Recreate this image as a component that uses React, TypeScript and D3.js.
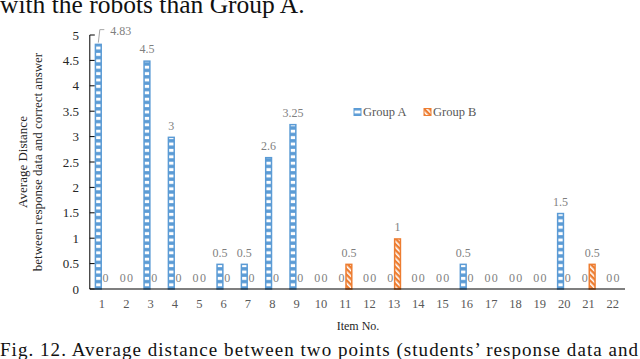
import { useEffect, useRef } from "react";
import * as d3 from "d3";

const items = d3.range(1, 23).map(String);
const groupA = [4.83, 0, 4.5, 3, 0, 0.5, 0.5, 2.6, 3.25, 0, 0, 0, 0, 0, 0, 0.5, 0, 0, 0, 1.5, 0, 0];
const groupB = [0, 0, 0, 0, 0, 0, 0, 0, 0, 0, 0.5, 0, 1, 0, 0, 0, 0, 0, 0, 0, 0.5, 0];
const groups = ["Group A", "Group B"];
const yTicks = [0, 0.5, 1, 1.5, 2, 2.5, 3, 3.5, 4, 4.5, 5];

const blue = "#5B9BD5";
const orange = "#ED7D31";
const serif = "'Liberation Serif', 'Times New Roman', serif";

export default function App() {
  const ref = useRef<SVGSVGElement>(null);

  useEffect(() => {
    const svg = d3.select(ref.current);
    svg.selectAll("*").remove();

    const left = 89.8;
    const right = 625;
    const top = 35;
    const bottom = 289;

    const x = d3.scaleBand().domain(items).range([left, right]).padding(0);
    const x1 = d3
      .scaleBand()
      .domain(groups)
      .range([x.bandwidth() * 0.2, x.bandwidth() * 0.8]);
    const y = d3.scaleLinear().domain([0, 5]).range([bottom, top]);

    // patterns
    const defs = svg.append("defs");
    const pA = defs
      .append("pattern")
      .attr("id", "patA")
      .attr("patternUnits", "userSpaceOnUse")
      .attr("width", 10)
      .attr("height", 6.4);
    pA.append("rect").attr("width", 10).attr("height", 6.4).attr("fill", blue);
    pA.append("rect").attr("y", 1.7).attr("width", 10).attr("height", 3).attr("fill", "#fff");

    const pB = defs
      .append("pattern")
      .attr("id", "patB")
      .attr("patternUnits", "userSpaceOnUse")
      .attr("width", 4)
      .attr("height", 4)
      .attr("patternTransform", "rotate(-45)");
    pB.append("rect").attr("width", 4).attr("height", 4).attr("fill", orange);
    pB.append("rect").attr("width", 1.6).attr("height", 4).attr("fill", "#fff");

    // surrounding paper text
    svg
      .append("text")
      .attr("x", 0)
      .attr("y", 12.5)
      .attr("font-family", serif)
      .attr("font-size", 25.5)
      .attr("fill", "#111")
      .text("with the robots than Group A.");
    svg
      .append("text")
      .attr("x", 0)
      .attr("y", 356)
      .attr("font-family", serif)
      .attr("font-size", 19)
      .attr("fill", "#111")
      .attr("textLength", 638)
      .attr("lengthAdjust", "spacing")
      .text("Fig. 12. Average distance between two points (students\u2019 response data and");

    // y axis
    const yAxis = svg.append("g");
    yAxis
      .append("line")
      .attr("x1", left)
      .attr("x2", left)
      .attr("y1", y(5))
      .attr("y2", y(0))
      .attr("stroke", "#000");
    yAxis
      .selectAll(".tick")
      .data(yTicks)
      .enter()
      .append("line")
      .attr("x1", left)
      .attr("x2", left + 5)
      .attr("y1", (d) => y(d))
      .attr("y2", (d) => y(d))
      .attr("stroke", "#000");
    yAxis
      .selectAll(".ylab")
      .data(yTicks)
      .enter()
      .append("text")
      .attr("x", 79)
      .attr("y", (d) => y(d) + 4.5)
      .attr("text-anchor", "end")
      .attr("font-family", serif)
      .attr("font-size", 13)
      .attr("fill", "#262626")
      .text((d) => String(d));

    // y title
    const yTitle = svg
      .append("text")
      .attr("transform", `translate(27,${(top + bottom) / 2}) rotate(-90)`)
      .attr("text-anchor", "middle")
      .attr("font-family", serif)
      .attr("font-size", 13)
      .attr("fill", "#262626");
    yTitle.append("tspan").attr("x", 0).attr("dy", 0).text("Average Distance");
    yTitle
      .append("tspan")
      .attr("x", 0)
      .attr("dy", 15)
      .text("between response data and correct answer");

    // bars
    const rows = items.map((it, i) => ({ item: it, values: [groupA[i], groupB[i]] }));
    const series = svg.append("g");
    rows.forEach((r) => {
      r.values.forEach((v, gi) => {
        const g = groups[gi];
        const bx = (x(r.item) as number) + (x1(g) as number);
        const bw = x1.bandwidth();
        if (v > 0) {
          series
            .append("rect")
            .attr("x", bx + 0.75)
            .attr("y", y(v) + 0.75)
            .attr("width", bw - 1.5)
            .attr("height", y(0) - y(v) - 0.75)
            .attr("fill", gi === 0 ? "url(#patA)" : "url(#patB)")
            .attr("stroke", gi === 0 ? blue : orange)
            .attr("stroke-width", 1.5);
        }
        const cx = bx + bw / 2;
        if (v === 4.83) {
          // leader line label
          series
            .append("path")
            .attr("d", `M${cx},${y(v) - 1}L${cx + 1.5},${y(v) - 14}L${cx + 6},${y(v) - 14}`)
            .attr("fill", "none")
            .attr("stroke", "#a6a6a6")
            .attr("stroke-width", 1);
          series
            .append("text")
            .attr("x", cx + 12)
            .attr("y", y(v) - 9)
            .attr("font-family", serif)
            .attr("font-size", 12)
            .attr("fill", "#7f7f7f")
            .text(String(v));
        } else {
          series
            .append("text")
            .attr("x", cx)
            .attr("y", y(v) - 7)
            .attr("text-anchor", "middle")
            .attr("font-family", serif)
            .attr("font-size", 12)
            .attr("fill", "#7f7f7f")
            .text(String(v));
        }
      });
    });

    // x axis
    svg
      .append("line")
      .attr("x1", left)
      .attr("x2", right)
      .attr("y1", y(0))
      .attr("y2", y(0))
      .attr("stroke", "#000")
      .attr("stroke-width", 1.2);
    svg
      .append("g")
      .selectAll("text")
      .data(items)
      .enter()
      .append("text")
      .attr("x", (d) => (x(d) as number) + x.bandwidth() / 2)
      .attr("y", 308)
      .attr("text-anchor", "middle")
      .attr("font-family", serif)
      .attr("font-size", 12.5)
      .attr("fill", "#595959")
      .text((d) => d);
    svg
      .append("text")
      .attr("x", 358)
      .attr("y", 330)
      .attr("text-anchor", "middle")
      .attr("font-family", serif)
      .attr("font-size", 12)
      .attr("fill", "#262626")
      .text("Item No.");

    // legend
    const legendX = [354, 424];
    const legend = svg.append("g");
    groups.forEach((g, i) => {
      legend
        .append("rect")
        .attr("x", legendX[i])
        .attr("y", 108.5)
        .attr("width", 7)
        .attr("height", 7)
        .attr("fill", i === 0 ? "url(#patA)" : "url(#patB)")
        .attr("stroke", i === 0 ? blue : orange)
        .attr("stroke-width", 1);
      legend
        .append("text")
        .attr("x", legendX[i] + 9)
        .attr("y", 116)
        .attr("font-family", serif)
        .attr("font-size", 12.5)
        .attr("fill", "#595959")
        .text(g);
    });
  }, []);

  return (
    <div style={{ position: "fixed", left: 0, top: 0, background: "#fff" }}>
      <svg ref={ref} width={640} height={359} style={{ display: "block" }} />
    </div>
  );
}
